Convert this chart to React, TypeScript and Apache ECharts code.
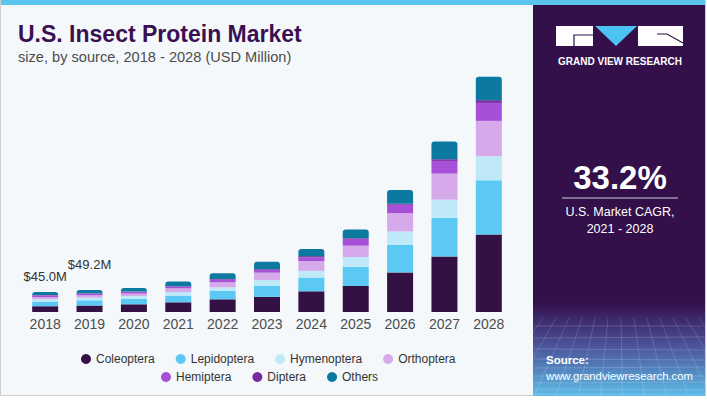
import React, { useEffect, useRef } from "react";
import * as echarts from "echarts";

const years = ["2018", "2019", "2020", "2021", "2022", "2023", "2024", "2025", "2026", "2027", "2028"];
const coleoptera = [13, 14.5, 17.3, 21.8, 28.5, 34, 46.5, 58.5, 89, 125, 174];
const lepidoptera = [10.5, 11.8, 12.7, 15, 19.5, 25, 31, 43, 62, 87, 122];
const hymenoptera = [5.4, 6, 6, 8, 7.5, 13, 15, 22, 30, 40.5, 54];
const orthoptera = [4.6, 5.2, 5.3, 8.5, 11.3, 16.5, 22, 25.5, 41, 58.5, 79.5];
const hemiptera = [3.6, 3.4, 3.5, 3.5, 6, 6, 8, 15, 19, 28.5, 40.5];
const diptera = [0.9, 1, 1, 1, 1.5, 1.5, 3, 1.5, 2.3, 3.8, 6];
const others = [7, 7.3, 8.3, 10.5, 12.8, 17, 16, 20, 31, 40, 52.5];

const seriesNames = ["Coleoptera", "Lepidoptera", "Hymenoptera", "Orthoptera", "Hemiptera", "Diptera", "Others"];
const seriesData = [coleoptera, lepidoptera, hymenoptera, orthoptera, hemiptera, diptera, others];
const seriesColors = ["#341145", "#5cc9f5", "#bfe9f9", "#d6a9eb", "#a650d8", "#7a2a9f", "#0b79a0"];
const labeledYears = [0, 1];
const labelDistances = [9, 19];

const FONT = "'Liberation Sans', Arial, sans-serif";

export default function App() {
  const ref = useRef<HTMLDivElement>(null);

  useEffect(() => {
    document.body.style.margin = "0";
    if (!ref.current) return;
    const chart = echarts.init(ref.current, undefined, { renderer: "svg" });

    const totals = years.map((_, i) => seriesData.reduce((s, arr) => s + arr[i], 0));

    const series: any[] = seriesNames.map((name, si) => {
      const isTop = si === seriesNames.length - 1;
      return {
        name,
        type: "bar",
        stack: "total",
        barWidth: 26,
        itemStyle: {
          color: seriesColors[si],
          borderRadius: isTop ? [3, 3, 0, 0] : 0,
        },
        data: seriesData[si].map((v, i) => {
          const li = labeledYears.indexOf(i);
          if (isTop && li >= 0) {
            return {
              value: v,
              label: {
                show: true,
                position: "top",
                distance: labelDistances[li],
                formatter: "$" + totals[i].toFixed(1) + "M",
                color: "#333333",
                fontSize: 13,
                fontFamily: FONT,
              },
            };
          }
          return v;
        }),
      };
    });

    // decorative mesh lines for the panel bottom
    const mesh: any[] = [];
    const hy = [326, 338, 349, 359, 368, 376, 383, 389, 394];
    hy.forEach((y) => {
      mesh.push({
        type: "line",
        shape: { x1: 534, y1: y, x2: 704, y2: y + ((y * 7) % 5) - 2 },
        style: { stroke: "rgba(255,255,255,0.16)", lineWidth: 1 },
        z: 1,
      });
    });
    for (let k = 0; k < 14; k++) {
      const x = 530 + k * 13;
      mesh.push({
        type: "line",
        shape: { x1: x, y1: 318, x2: x + (x - 619) * 0.7, y2: 396 },
        style: { stroke: "rgba(255,255,255,0.14)", lineWidth: 1 },
        z: 1,
      });
    }

    const option: any = {
      animation: false,
      backgroundColor: "#ffffff",
      grid: { left: 23, right: 196, top: 45, bottom: 88, containLabel: false },
      xAxis: {
        type: "category",
        data: years,
        axisLine: { show: false },
        axisTick: { show: false },
        axisLabel: { color: "#4d4d4d", fontSize: 14, fontFamily: FONT, margin: 5 },
      },
      yAxis: {
        type: "value",
        min: 0,
        max: 600,
        show: false,
        splitLine: { show: false },
      },
      legend: [
        {
          data: seriesNames.slice(0, 4),
          left: 76,
          top: 348,
          icon: "circle",
          itemWidth: 10,
          itemHeight: 10,
          itemGap: 21,
          textStyle: { color: "#333333", fontSize: 12, fontFamily: FONT },
        },
        {
          data: seriesNames.slice(4),
          left: 156,
          top: 366,
          icon: "circle",
          itemWidth: 10,
          itemHeight: 10,
          itemGap: 21,
          textStyle: { color: "#333333", fontSize: 12, fontFamily: FONT },
        },
      ],
      graphic: [
        {
          type: "rect",
          shape: { x: 0.5, y: 0.5, width: 705, height: 395 },
          style: { fill: "#f4f8fb", stroke: "#cfcfcf", lineWidth: 1 },
          z: 0,
        },
        {
          type: "rect",
          shape: { x: 1, y: 0, width: 704, height: 5 },
          style: { fill: "#5bc5ee" },
          z: 1,
        },
        {
          type: "rect",
          shape: { x: 533, y: 5, width: 172, height: 391 },
          style: {
            fill: new echarts.graphic.LinearGradient(0, 0, 0, 1, [
              { offset: 0, color: "#33104a" },
              { offset: 0.76, color: "#33104a" },
              { offset: 0.86, color: "#4a4a92" },
              { offset: 1, color: "#5cbbe8" },
            ]),
          },
          z: 1,
        },
        ...mesh,
        {
          type: "text",
          x: 18,
          y: 34,
          style: {
            text: "U.S. Insect Protein Market",
            fill: "#3a1052",
            font: "bold 23px " + FONT,
            textVerticalAlign: "middle",
          },
          z: 3,
        },
        {
          type: "text",
          x: 18,
          y: 57,
          style: {
            text: "size, by source, 2018 - 2028 (USD Million)",
            fill: "#4d4d4d",
            font: "14.6px " + FONT,
            textVerticalAlign: "middle",
          },
          z: 3,
        },
        // logo
        {
          type: "polygon",
          shape: { points: [[556, 26], [593, 26], [593, 46], [556, 46]] },
          style: { fill: "#ffffff" },
          z: 3,
        },
        {
          type: "polyline",
          shape: { points: [[574, 46], [574, 35], [593, 35]] },
          style: { stroke: "#33104a", lineWidth: 1.2, fill: "none" },
          z: 4,
        },
        {
          type: "polygon",
          shape: { points: [[595, 26], [637, 26], [616, 46]] },
          style: { fill: "#4cc3f2" },
          z: 3,
        },
        {
          type: "polygon",
          shape: { points: [[638, 26], [683, 26], [683, 46], [638, 46]] },
          style: { fill: "#ffffff" },
          z: 3,
        },
        {
          type: "polyline",
          shape: { points: [[657, 34], [667, 34], [683, 43]] },
          style: { stroke: "#33104a", lineWidth: 1.2, fill: "none" },
          z: 4,
        },
        {
          type: "text",
          x: 620,
          y: 61,
          style: {
            text: "GRAND VIEW RESEARCH",
            fill: "#ffffff",
            font: "bold 10px " + FONT,
            textAlign: "center",
            textVerticalAlign: "middle",
          },
          z: 3,
        },
        {
          type: "text",
          x: 620,
          y: 177,
          style: {
            text: "33.2%",
            fill: "#ffffff",
            font: "bold 33px " + FONT,
            textAlign: "center",
            textVerticalAlign: "middle",
          },
          z: 3,
        },
        {
          type: "line",
          shape: { x1: 562, y1: 198, x2: 678, y2: 198 },
          style: { stroke: "#cfcfd8", lineWidth: 1 },
          z: 3,
        },
        {
          type: "text",
          x: 620,
          y: 212,
          style: {
            text: "U.S. Market CAGR,",
            fill: "#ffffff",
            font: "12.5px " + FONT,
            textAlign: "center",
            textVerticalAlign: "middle",
          },
          z: 3,
        },
        {
          type: "text",
          x: 620,
          y: 229,
          style: {
            text: "2021 - 2028",
            fill: "#ffffff",
            font: "12.5px " + FONT,
            textAlign: "center",
            textVerticalAlign: "middle",
          },
          z: 3,
        },
        {
          type: "text",
          x: 546,
          y: 360,
          style: {
            text: "Source:",
            fill: "#ffffff",
            font: "bold 11.5px " + FONT,
            textVerticalAlign: "middle",
          },
          z: 3,
        },
        {
          type: "text",
          x: 546,
          y: 376,
          style: {
            text: "www.grandviewresearch.com",
            fill: "#ffffff",
            font: "11.3px " + FONT,
            textVerticalAlign: "middle",
          },
          z: 3,
        },
      ],
      series,
    };

    chart.setOption(option);
    return () => chart.dispose();
  }, []);

  return <div ref={ref} style={{ width: 707, height: 400 }} />;
}
